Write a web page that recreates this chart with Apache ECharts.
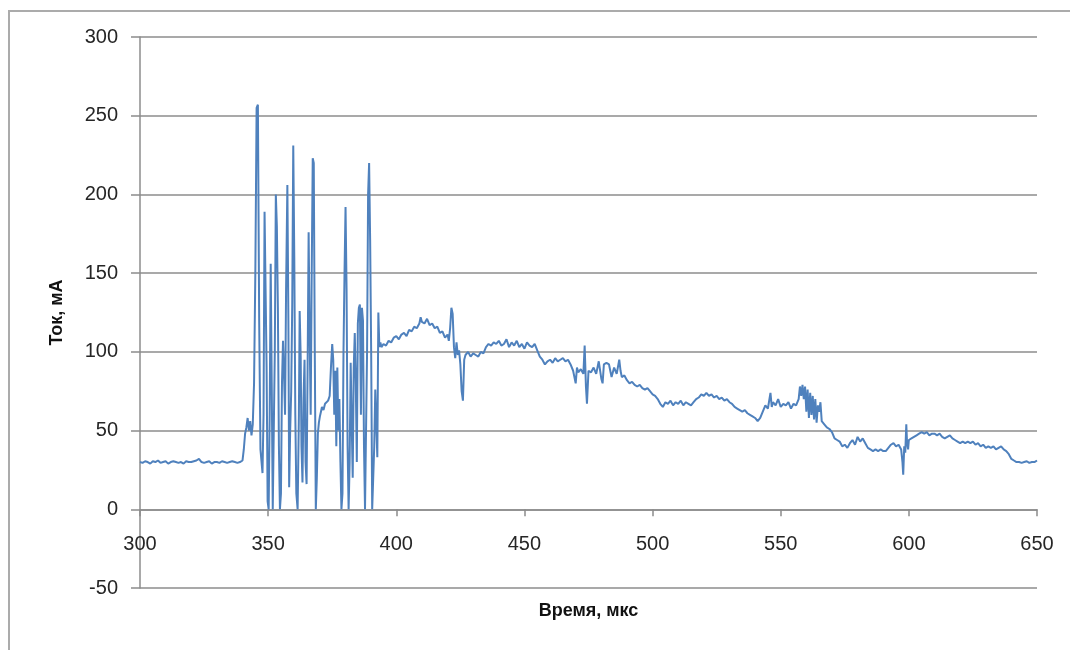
<!DOCTYPE html>
<html>
<head>
<meta charset="utf-8">
<script src="https://cdn.jsdelivr.net/npm/echarts@6/dist/echarts.min.js"></script>
<style>
  html, body { margin: 0; padding: 0; background: #fff; }
  #chart { width: 1070px; height: 650px; }
</style>
</head>
<body>
<div id="chart"></div>
<script>
// время, мкс
const timeUs = [
  300,301,302,303,304,305,306,307,308,309,310,311,312,313,314,315,316,317,318,319,
  320,321,322,323,324,325,326,327,328,329,330,331,332,333,334,335,336,337,338,339,340,
  340.5,341,341.5,342,342.5,343,343.5,344,344.5,345,345.5,346,346.5,347,347.4,347.8,
  348.2,348.6,349,349.4,349.8,350.2,350.6,351,351.4,351.8,352.2,352.6,353,353.4,353.8,
  354.2,354.6,355,355.4,355.8,356.2,356.6,357,357.5,357.9,358.2,358.6,359,359.4,359.8,
  360.2,360.6,361,361.5,362,362.3,362.7,363,363.4,363.8,364.2,364.6,365,365.4,365.8,
  366.2,366.6,367,367.4,367.8,368.2,368.6,369,369.4,369.8,370.2,370.6,371,371.6,372.2,
  372.8,373.4,374,374.5,375,375.4,375.8,376.2,376.6,377,377.4,377.8,378.2,378.6,379,
  379.4,379.8,380.2,380.6,381,381.4,381.8,382.2,382.6,383,383.4,383.8,384.2,384.6,385,
  385.4,385.8,386.2,386.6,387,387.4,387.8,388.2,388.6,389,389.4,389.8,390.2,390.6,391,
  391.4,391.8,392.2,392.6,393,393.4,393.8,394.2,
  395,396,397,398,399,400,401,402,403,404,405,406,407,408,409,409.5,410,411,412,413,
  414,415,416,417,418,419,420,420.5,421,421.5,422,422.5,423,423.5,424,424.5,425,425.5,
  426,426.5,427,428,429,430,431,432,433,434,435,436,437,438,439,440,441,442,443,444,
  445,446,447,448,449,450,451,452,453,454,455,456,457,458,459,460,461,462,463,464,465,
  466,467,468,469,470,470.5,471,472,473,473.5,474,474.4,475,476,477,478,479,480,480.5,
  481,482,483,484,485,486,487,487.5,488,489,490,491,492,493,494,495,496,497,498,499,
  500,501,502,503,504,505,506,507,508,509,510,511,512,513,514,515,516,517,518,519,520,
  521,522,523,524,525,526,527,528,529,530,531,532,533,534,535,536,537,538,539,540,541,
  542,543,544,545,546,546.5,547,548,549,550,551,552,553,554,555,556,557,557.5,558,558.5,
  559,559.5,560,560.5,561,561.5,562,562.5,563,563.5,564,564.5,565,565.5,566,567,568,569,
  570,571,572,573,574,575,576,577,578,579,580,581,582,583,584,585,586,587,588,589,590,
  591,592,593,594,595,596,597,597.5,597.8,598.2,598.6,599,599.3,599.7,600,601,602,603,
  604,605,606,607,608,609,610,611,612,613,614,615,616,617,618,619,620,621,622,623,624,
  625,626,627,628,629,630,631,632,633,634,635,636,637,638,639,640,641,642,643,644,645,
  646,647,648,649,650
];
// ток, мА
const currentMa = [
  30,29.5,30.5,30,29,30.5,30,31,29.5,30,30.5,29,30,30.5,30,29.5,30,29,30.5,30,
  30,30.5,31,32,30,29.5,30,30.5,29,30,30,29.5,30.5,30,29.5,30,30.5,30,29.5,30,31,
  38,48,52,58,50,56,47,54,80,150,255,257,120,38,38,23,
  60,189,189,90,5,0,60,156,80,0,0,100,200,180,128,
  40,0,10,80,107,85,60,140,206,120,14,50,75,130,231,
  160,60,10,0,60,126,97,40,17,70,95,30,16,90,176,
  110,60,150,223,220,100,0,20,48,55,59,62,65,63,67,
  66,69,72,90,105,95,60,88,40,90,50,70,30,0,10,
  100,150,192,140,40,0,30,93,55,20,90,112,80,30,118,
  128,130,60,128,120,40,0,0,100,200,220,171,100,0,0,
  40,76,75,33,125,103,106,103,
  105,104,107,106,109,110,108,111,112,110,114,113,116,115,118,122,119,118,121,117,
  118,115,116,112,113,109,111,107,115,128,124,103,96,106,98,101,92,75,
  69,95,98,100,97,99,98,97,100,99,103,105,104,106,105,107,104,105,108,103,
  106,104,107,103,105,102,106,104,103,105,101,97,95,92,94,95,93,96,94,95,96,
  94,95,92,88,80,90,87,89,86,104,78,67,88,87,90,86,94,83,80,
  92,93,92,84,90,86,95,88,84,85,82,80,81,79,78,79,77,76,77,75,
  73,72,70,67,65,68,67,69,66,68,67,69,66,68,67,66,68,70,71,73,72,
  74,72,73,71,72,70,71,69,70,68,67,65,64,63,62,63,61,60,59,58,56,
  58,62,66,64,74,65,68,66,70,65,67,66,68,64,67,66,70,78,72,79,
  70,78,62,76,58,74,60,72,57,70,55,66,62,68,56,54,52,51,
  49,45,44,43,40,41,39,42,44,41,46,43,45,42,39,38,37,38,37,38,37,
  37,39,41,42,40,41,38,30,22,40,36,54,42,38,44,45,46,47,
  48,49,48,49,47,48,48,47,48,46,45,46,47,45,44,43,42,43,42,43,42,
  43,41,42,40,41,39,40,39,40,38,39,40,38,37,35,32,31,30,30,29.5,30,
  30.5,29.5,30,30,31
];
const xTicks = { min: 300, max: 650, step: 50 };
const yTicks = { min: -50, max: 300, step: 50 };

const chart = echarts.init(document.getElementById('chart'));
const labelFont = { color: '#262626', fontSize: 20, fontFamily: 'Liberation Sans' };
const gridGray = '#8c8c8c';

chart.setOption({
  animation: false,
  backgroundColor: '#fff',
  graphic: [{
    type: 'rect',
    shape: { x: 9, y: 11, width: 1100, height: 700 },
    style: { fill: 'none', stroke: '#ababab', lineWidth: 2 },
    silent: true
  }],
  grid: { left: 140, right: 33, top: 37, bottom: 62, containLabel: false, outerBoundsMode: 'none' },
  xAxis: {
    type: 'value',
    min: xTicks.min, max: xTicks.max, interval: xTicks.step,
    name: 'Время, мкс',
    nameLocation: 'middle',
    nameGap: 14,
    nameTextStyle: { color: '#111', fontSize: 18, fontWeight: 'bold', fontFamily: 'Liberation Sans' },
    axisLine: { onZero: true, lineStyle: { color: gridGray, width: 1.5 } },
    axisTick: { show: true, length: 7, lineStyle: { color: gridGray, width: 1.5 } },
    // labels sit just under the zero line, as in the Excel original
    axisLabel: Object.assign({ margin: -54 }, labelFont),
    splitLine: { show: false }
  },
  yAxis: {
    type: 'value',
    min: yTicks.min, max: yTicks.max, interval: yTicks.step,
    name: 'Ток, мА',
    nameLocation: 'middle',
    nameGap: 74,
    nameTextStyle: { color: '#111', fontSize: 18, fontWeight: 'bold', fontFamily: 'Liberation Sans' },
    axisLine: { show: true, lineStyle: { color: gridGray, width: 1.5 } },
    axisTick: { show: true, length: 9, lineStyle: { color: gridGray, width: 1.5 } },
    axisLabel: Object.assign({ margin: 22 }, labelFont),
    splitLine: { show: true, lineStyle: { color: gridGray, width: 1.5 } }
  },
  series: [{
    name: 'Ток',
    type: 'line',
    showSymbol: false,
    data: timeUs.map((t, i) => [t, currentMa[i]]),
    lineStyle: { color: '#4f81bd', width: 2 },
    itemStyle: { color: '#4f81bd' }
  }]
});
</script>
</body>
</html>
